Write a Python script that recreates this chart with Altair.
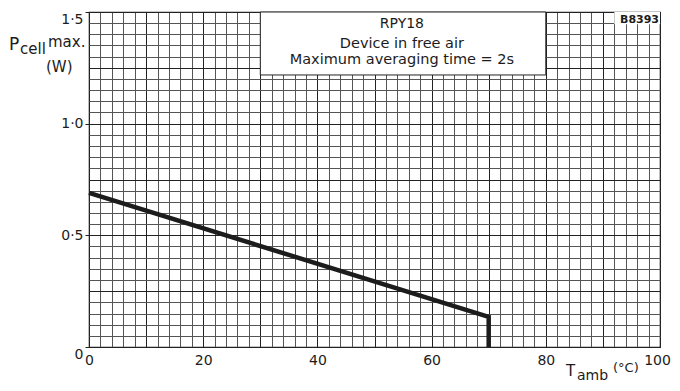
import altair as alt
import pandas as pd

# --- data -------------------------------------------------------------
temp_c = [0, 70, 70]
p_max = [0.69, 0.135, 0.0]

x_grid = list(range(0, 101, 2))
y_grid = [round(i * 0.05, 2) for i in range(31)]

note_lines = ["RPY18", "Device in free air", "Maximum averaging time = 2s"]
note_x = [54.8, 54.8, 54.8]
note_y = [1.428, 1.339, 1.267]
note_size = [14, 14.5, 14.5]

box_x = [30]
box_x2 = [80]
box_y = [1.218]
box_y2 = [1.5]

code_label = "B8393"

FONT = "DejaVu Sans"
INK = "#1c1c1c"
MAJOR = "#222222"
MINOR = "#555555"

xs = alt.Scale(domain=[0, 100], nice=False, zero=False)
ys = alt.Scale(domain=[0, 1.5], nice=False, zero=False)

Y_LABELED = "(datum.value === 0 || abs(datum.value*2 - round(datum.value*2)) < 0.001)"

x_axis = alt.Axis(
    values=x_grid, title=None, grid=True, ticks=False, domain=False,
    labelExpr="datum.value % 20 === 0 ? datum.label : ''",
    labelFont=FONT, labelFontSize=14, labelColor=INK, labelPadding=6,
    labelOffset={"condition": {"test": "datum.value === 100", "value": -3}, "value": 0},
    gridColor={"condition": {"test": "datum.value % 10 === 0", "value": MAJOR}, "value": MINOR},
    gridWidth=1, labelFlush=False, labelOverlap=False,
)
y_axis = alt.Axis(
    values=y_grid, title=None, grid=True, domain=False,
    ticks=True, tickSize=4, tickColor=MAJOR,
    tickOpacity={"condition": {"test": Y_LABELED, "value": 1}, "value": 0},
    labelExpr="datum.value === 0 ? '0' : (abs(datum.value*2 - round(datum.value*2)) < 0.001 ? replace(format(datum.value, '.1f'), '.', '·') : '')",
    labelFont=FONT, labelFontSize=14, labelColor=INK, labelPadding=2,
    labelBaseline={"condition": {"test": "datum.value === 0 || datum.value === 1.5", "value": "top"}, "value": "middle"},
    gridColor={"condition": {"test": "abs(datum.value*4 - round(datum.value*4)) < 0.001", "value": MAJOR}, "value": MINOR},
    gridWidth=1, labelFlush=False, labelOverlap=False,
)

curve_df = pd.DataFrame({"t": temp_c, "p": p_max, "o": list(range(len(temp_c)))})
curve = alt.Chart(curve_df).mark_line(color=INK, strokeWidth=4.5, strokeJoin="miter").encode(
    x=alt.X("t:Q", scale=xs, axis=x_axis),
    y=alt.Y("p:Q", scale=ys, axis=y_axis),
    order="o:O",
)

box_df = pd.DataFrame({"x": box_x, "x2": box_x2, "y": box_y, "y2": box_y2})
box = alt.Chart(box_df).mark_rect(fill="white", stroke=MAJOR, strokeWidth=1).encode(
    x=alt.X("x:Q", scale=xs, axis=x_axis), x2="x2:Q",
    y=alt.Y("y:Q", scale=ys, axis=y_axis), y2="y2:Q",
)

note_df = pd.DataFrame({"txt": note_lines, "x": note_x, "y": note_y, "s": note_size})
notes = alt.Chart(note_df).mark_text(font=FONT, color=INK, align="center", baseline="alphabetic").encode(
    x=alt.X("x:Q", scale=xs, axis=x_axis),
    y=alt.Y("y:Q", scale=ys, axis=y_axis),
    text="txt:N",
    size=alt.Size("s:Q", scale=None, legend=None),
)

code_df = pd.DataFrame({"txt": [code_label], "x": [100], "y": [1.451], "x0": [92], "y0": [1.445], "y1": [1.5]})
code_bg = alt.Chart(code_df).mark_rect(fill="white").encode(
    x=alt.X("x0:Q", scale=xs, axis=x_axis), x2="x:Q",
    y=alt.Y("y0:Q", scale=ys, axis=y_axis), y2="y1:Q",
)
code_txt = alt.Chart(code_df).mark_text(font=FONT, fontSize=11, fontWeight="bold", color=INK,
                                        align="right", baseline="alphabetic", dx=-1).encode(
    x=alt.X("x:Q", scale=xs, axis=x_axis),
    y=alt.Y("y:Q", scale=ys, axis=y_axis),
    text="txt:N",
)

one = pd.DataFrame({"a": [0]})

def label(text, x, y, size):
    return alt.Chart(one).mark_text(text=text, font=FONT, fontSize=size, color=INK,
                                    align="left", baseline="alphabetic").encode(
        x=alt.value(x), y=alt.value(y))

titles = [
    label("P", -80, 38, 17),
    label("cell", -69, 42, 15),
    label("max.", -41, 35, 15),
    label("(W)", -43, 60, 15),
    label("T", 477, 364, 15),
    label("amb", 488, 368, 14),
    label("(°C)", 524, 360, 13),
]

chart = alt.layer(curve, box, notes, code_bg, code_txt, *titles).properties(
    width=571, height=335,
    autosize=alt.AutoSizeParams(type="none"),
    padding={"left": 81, "top": 4, "right": 12, "bottom": 36},
    background="white",
).configure_view(stroke=MAJOR, strokeWidth=1.2)

chart.save("out.html", embed_options={"renderer": "svg", "actions": False})
